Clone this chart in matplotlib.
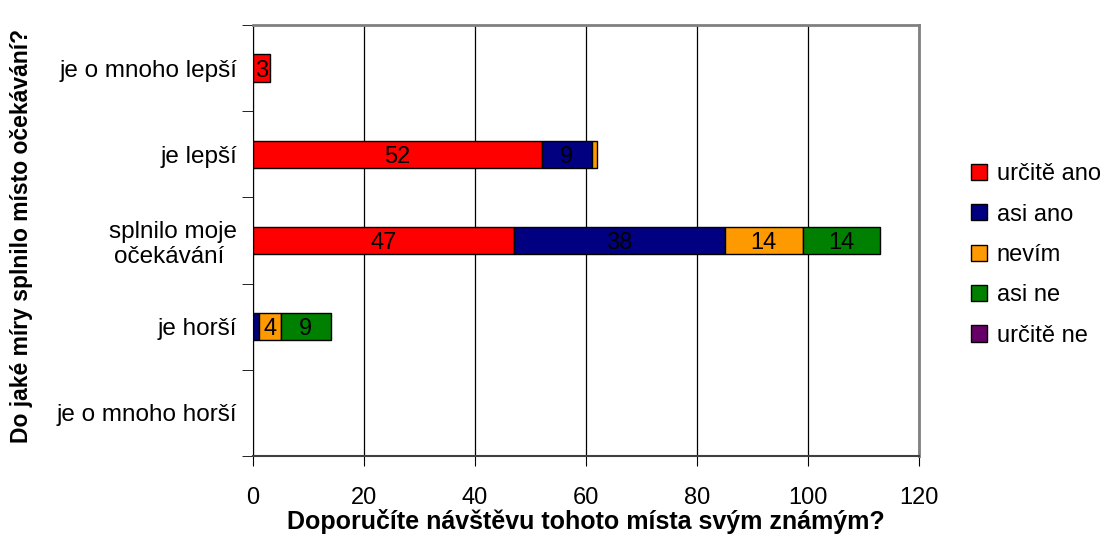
import matplotlib
matplotlib.use("Agg")
import matplotlib.pyplot as plt
from matplotlib.patches import Patch
import numpy as np

plt.rcParams["font.family"] = ["Liberation Sans", "DejaVu Sans"]

# categories from top to bottom
categories = ["je o mnoho lepší", "je lepší", "splnilo moje\nočekávání ",
              "je horší", "je o mnoho horší"]
series = ["určitě ano", "asi ano", "nevím", "asi ne", "určitě ne"]
colors = ["#FF0000", "#000080", "#FF9900", "#008000", "#660066"]

urcite_ano = [3, 52, 47, 0, 0]
asi_ano = [0, 9, 38, 1, 0]
nevim = [0, 1, 14, 4, 0]
asi_ne = [0, 0, 14, 9, 0]
urcite_ne = [0, 0, 0, 0, 0]
values = [urcite_ano, asi_ano, nevim, asi_ne, urcite_ne]

fig = plt.figure(figsize=(11.07, 5.53), dpi=100)
ax = fig.add_axes([0.2285, 0.1754, 0.6018, 0.7794])

y = np.arange(len(categories))
left = np.zeros(len(categories))
for vals, col in zip(values, colors):
    vals = np.array(vals, dtype=float)
    nz = vals > 0
    bars = ax.barh(y[nz], vals[nz], left=left[nz], height=0.32, color=col,
                   edgecolor="black", linewidth=1, zorder=3)
    for b, v in zip(bars, vals[nz]):
        if v >= 2:
            ax.text(b.get_x() + b.get_width() / 2, b.get_y() + b.get_height() / 2,
                    f"{int(v)}", ha="center", va="center_baseline", fontsize=17, zorder=4)
    left += vals

ax.set_xlim(0, 120)
ax.set_ylim(len(categories) - 0.5, -0.5)
ax.set_xticks(np.arange(0, 121, 20))
ax.set_yticks(y)
ax.set_yticklabels(categories, fontsize=17.5, multialignment="center")
ax.set_yticks(np.arange(-0.5, len(categories), 1), minor=True)
ax.tick_params(axis="y", which="major", length=0, pad=11.5)
ax.tick_params(axis="y", which="minor", length=8, direction="out", color="black")
ax.tick_params(axis="x", labelsize=17, length=7, direction="out", pad=15)
ax.xaxis.grid(True, color="black", linewidth=0.9, zorder=0)

for s in ["top", "right"]:
    ax.spines[s].set_color("#808080")
    ax.spines[s].set_linewidth(2)
ax.spines["left"].set_color("black")
ax.spines["bottom"].set_color("#404040")
ax.spines["bottom"].set_linewidth(1.5)

ax.set_xlabel("Doporučíte návštěvu tohoto místa svým známým?", fontsize=18,
              fontweight="bold", labelpad=0)
fig.text(0.019, 0.573, "Do jaké míry splnilo místo očekávání?", rotation=90,
         fontsize=16.5, fontweight="bold", ha="center", va="center")

handles = [Patch(facecolor=c, edgecolor="black", label=s) for c, s in zip(colors, series)]
fig.legend(handles=handles, loc="center left", bbox_to_anchor=(0.858, 0.539),
           frameon=False, fontsize=17, handlelength=0.68, handleheight=0.68,
           handletextpad=0.4, labelspacing=0.78)

fig.savefig("out.png", dpi=100)
